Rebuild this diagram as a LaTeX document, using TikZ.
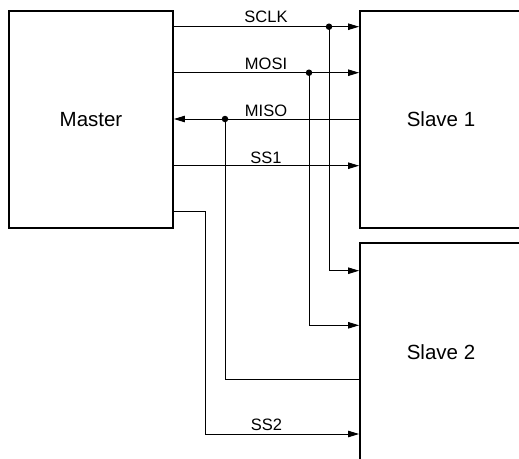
\documentclass[tikz,border=0pt]{standalone}
\usepackage{fontspec}
\setmainfont{Liberation Sans}
\usetikzlibrary{arrows.meta}
\begin{document}
\begin{tikzpicture}[x=1pt,y=-1pt,
  blockbox/.style={draw,line width=1.9pt,minimum width=#1,inner sep=0pt,font=\fontsize{20.5}{24}\selectfont},
  sig/.style={line width=0.9pt},
  sigarrow/.style={line width=0.9pt,-{Triangle[length=11pt,width=6.5pt]}},
  siglab/.style={font=\fontsize{16.5}{19}\selectfont,anchor=base,inner sep=0pt},
  joint/.style={circle,fill,inner sep=0pt,minimum size=6.5pt}]
\useasboundingbox (0,0) rectangle (519,458);
% blocks
\node[blockbox=164pt,minimum height=217.5pt] (M) at (91,119.3) {Master};
\node[blockbox=162pt,minimum height=217.5pt] (S1) at (441,119.3) {Slave 1};
\node[blockbox=162pt,minimum height=217pt] (S2) at (441,351.8) {Slave 2};
% levels
\coordinate (ysclk) at (0,26.7);
\coordinate (ymosi) at (0,72.7);
\coordinate (ymiso) at (0,119);
\coordinate (yss1) at (0,165.7);
\coordinate (yss2a) at (0,211.7);
\coordinate (ysclk2) at (0,270.7);
\coordinate (ymosi2) at (0,325.3);
\coordinate (ymiso2) at (0,379.3);
\coordinate (yss2) at (0,434);
\coordinate (xss2) at (205,0);
% junction dots
\node[joint] (dsclk) at (329,26.7) {};
\node[joint] (dmosi) at (309,72.7) {};
\node[joint] (dmiso) at (225,119) {};
% slave 1 lines
\draw[sigarrow] (M.east |- ysclk) -- (S1.west |- ysclk);
\draw[sigarrow] (M.east |- ymosi) -- (S1.west |- ymosi);
\draw[sigarrow] (S1.west |- ymiso) -- (M.east |- ymiso);
\draw[sigarrow] (M.east |- yss1) -- (S1.west |- yss1);
% slave 2 lines
\draw[sigarrow] (dsclk.center) |- (S2.west |- ysclk2);
\draw[sigarrow] (dmosi.center) |- (S2.west |- ymosi2);
\draw[sig] (dmiso.center) |- (S2.west |- ymiso2);
\coordinate (ss2corner) at (xss2 |- yss2a);
\draw[sigarrow] (M.east |- yss2a) -- (ss2corner) |- (S2.west |- yss2);
% labels
\node[siglab] (lsclk) at (266,22.3) {SCLK};
\node[siglab] (lmosi) at (266,69.8) {MOSI};
\node[siglab] (lmiso) at (266,116) {MISO};
\node[siglab] (lss1) at (266,163.2) {SS1};
\node[siglab] (lss2) at (266.5,430.2) {SS2};
\end{tikzpicture}
\end{document}
